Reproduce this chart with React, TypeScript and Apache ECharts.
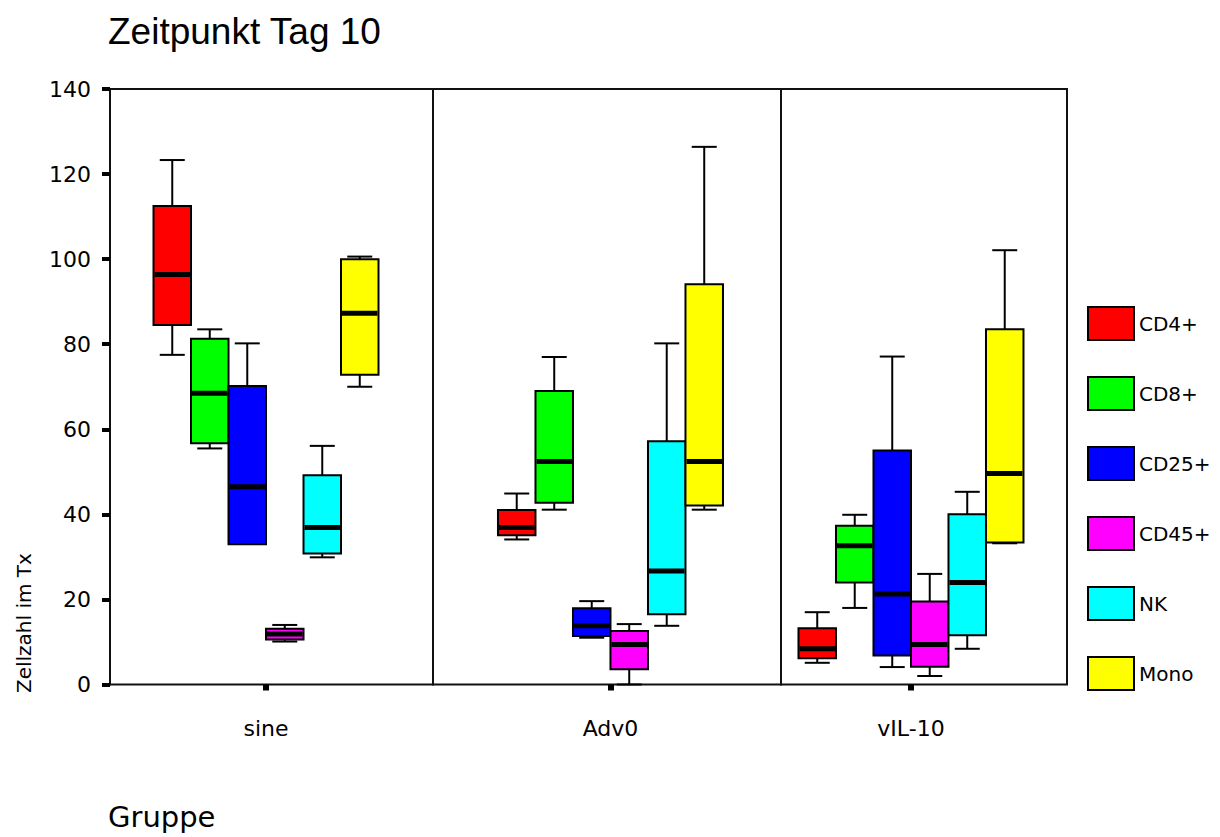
import React, { useEffect, useRef } from "react";
import * as echarts from "echarts";

// ---- data ----
const groups = ["sine", "Adv0", "vIL-10"];
const subsets = ["CD4+", "CD8+", "CD25+", "CD45+", "NK", "Mono"];
const colors = ["#ff0000", "#00ff00", "#0000ff", "#ff00ff", "#00ffff", "#ffff00"];
const yMin = 0;
const yMax = 140;
const yInterval = 20;

// each row: [min, q1, median, q3, max] per group (sine, Adv0, vIL-10)
const cd4 = [
  [77.5, 84.5, 96.4, 112.5, 123.3],
  [34.1, 35.1, 36.9, 41.0, 44.9],
  [5.1, 6.2, 8.4, 13.2, 17.0],
];
const cd8 = [
  [55.5, 56.7, 68.5, 81.3, 83.5],
  [41.1, 42.7, 52.4, 69.0, 77.0],
  [18.0, 24.0, 32.6, 37.3, 39.9],
];
const cd25 = [
  [33.0, 33.0, 46.5, 70.2, 80.2],
  [11.0, 11.4, 13.8, 17.9, 19.6],
  [4.1, 6.8, 21.3, 55.0, 77.1],
];
const cd45 = [
  [10.1, 10.6, 11.9, 13.1, 14.0],
  [0.0, 3.6, 9.4, 12.6, 14.2],
  [2.0, 4.2, 9.4, 19.5, 26.0],
];
const nk = [
  [29.9, 30.8, 36.9, 49.2, 56.1],
  [13.8, 16.5, 26.7, 57.2, 80.2],
  [8.4, 11.6, 24.0, 40.0, 45.3],
];
const mono = [
  [70.0, 72.8, 87.3, 100.0, 100.6],
  [41.1, 42.1, 52.4, 94.1, 126.4],
  [33.2, 33.4, 49.6, 83.5, 102.1],
];
const seriesValues = [cd4, cd8, cd25, cd45, nk, mono];

// ---- layout (pixels) ----
const panels = [
  { left: 110, width: 323, center: 0.483 },
  { left: 433, width: 348, center: 0.51 },
  { left: 781, width: 286, center: 0.4545 },
];
const BOX_W = 37.5;
const CAP_W = 25;
const FRAME = "#111";

export default function App() {
  const ref = useRef<HTMLDivElement>(null);

  useEffect(() => {
    document.body.style.margin = "0";
    if (!ref.current) return;
    const chart = echarts.init(ref.current, undefined, { renderer: "svg" });

    const makeRender = (k: number) => (params: any, api: any) => {
      const v = [api.value(1), api.value(2), api.value(3), api.value(4), api.value(5)];
      const x0 = api.coord([0, 0])[0];
      const cx = x0 + (k - 2.5) * BOX_W;
      const y = (val: number) => api.coord([0, val])[1];
      const [yLo, yQ1, yMed, yQ3, yHi] = v.map(y);
      const line = (x1: number, y1: number, x2: number, y2: number, w = 2) => ({
        type: "line",
        shape: { x1, y1, x2, y2 },
        style: { stroke: "#000", lineWidth: w },
      });
      const children: any[] = [];
      if (yHi < yQ3 - 0.5) {
        children.push(line(cx, yHi, cx, yQ3));
      }
      children.push(line(cx - CAP_W / 2, yHi, cx + CAP_W / 2, yHi));
      if (yLo > yQ1 + 0.5) {
        children.push(line(cx, yQ1, cx, yLo));
        children.push(line(cx - CAP_W / 2, yLo, cx + CAP_W / 2, yLo));
      }
      children.push({
        type: "rect",
        shape: { x: cx - BOX_W / 2, y: yQ3, width: BOX_W, height: yQ1 - yQ3 },
        style: { fill: colors[k], stroke: "#000", lineWidth: 2 },
      });
      children.push(line(cx - BOX_W / 2 + 1, yMed, cx + BOX_W / 2 - 1, yMed, 5));
      return { type: "group", children };
    };

    const series: any[] = [];
    groups.forEach((g, gi) => {
      subsets.forEach((s, k) => {
        series.push({
          type: "custom",
          name: s,
          xAxisIndex: gi,
          yAxisIndex: gi,
          data: [[0, ...seriesValues[k][gi]]],
          encode: { x: 0, y: [1, 2, 3, 4, 5] },
          itemStyle: { color: colors[k], borderColor: "#000", borderWidth: 2 },
          renderItem: makeRender(k),
          clip: false,
          z: 3,
        });
      });
    });

    const labelFont = { fontFamily: "DejaVu Sans", fontSize: 22, color: "#000" };

    chart.setOption({
      animation: false,
      backgroundColor: "#fff",
      title: {
        text: "Zeitpunkt Tag 10",
        left: 108,
        top: 13,
        padding: 0,
        textStyle: {
          fontFamily: "Liberation Sans",
          fontSize: 37,
          fontWeight: "normal",
          color: "#000",
        },
      },
      legend: {
        orient: "vertical",
        left: 1087,
        top: 306,
        padding: 0,
        itemWidth: 46,
        itemHeight: 33,
        itemGap: 35,
        icon: "rect",
        data: subsets,
        selectedMode: false,
        itemStyle: { borderColor: "#000", borderWidth: 2 },
        textStyle: { fontFamily: "DejaVu Sans", fontSize: 20, color: "#000" },
      },
      grid: panels.map((p) => ({
        left: p.left,
        width: p.width,
        top: 89,
        bottom: 152.5,
        show: true,
        borderColor: FRAME,
        borderWidth: 2,
        backgroundColor: "transparent",
      })),
      xAxis: panels.map((p, i) => ({
        type: "value",
        gridIndex: i,
        min: -p.center,
        max: 1 - p.center,
        axisLine: { show: false, onZero: false },
        splitLine: { show: false },
        axisTick: {
          show: true,
          customValues: [0],
          length: 6,
          lineStyle: { width: 6, color: "#000" },
        },
        axisLabel: {
          customValues: [0],
          formatter: () => groups[i],
          margin: 33,
          ...labelFont,
        },
      })),
      yAxis: panels.map((p, i) => ({
        type: "value",
        gridIndex: i,
        min: yMin,
        max: yMax,
        interval: yInterval,
        show: i === 0,
        position: "left",
        splitLine: { show: false },
        axisLine: { show: true, onZero: false, lineStyle: { color: FRAME, width: 2 } },
        axisTick: { show: true, length: 8, lineStyle: { width: 4, color: "#000" } },
        axisLabel: { margin: 19, ...labelFont },
      })),
      graphic: [
        {
          type: "text",
          x: 24,
          y: 693,
          rotation: Math.PI / 2,
          style: {
            text: "Zellzahl im Tx",
            fontFamily: "DejaVu Sans",
            fontSize: 20,
            fill: "#000",
            align: "left",
            verticalAlign: "middle",
          },
        },
        {
          type: "text",
          x: 108,
          y: 817,
          style: {
            text: "Gruppe",
            fontFamily: "DejaVu Sans",
            fontSize: 29,
            fill: "#000",
            align: "left",
            verticalAlign: "middle",
          },
        },
      ],
      series,
    });

    return () => chart.dispose();
  }, []);

  return <div ref={ref} style={{ width: 1220, height: 837 }} />;
}
